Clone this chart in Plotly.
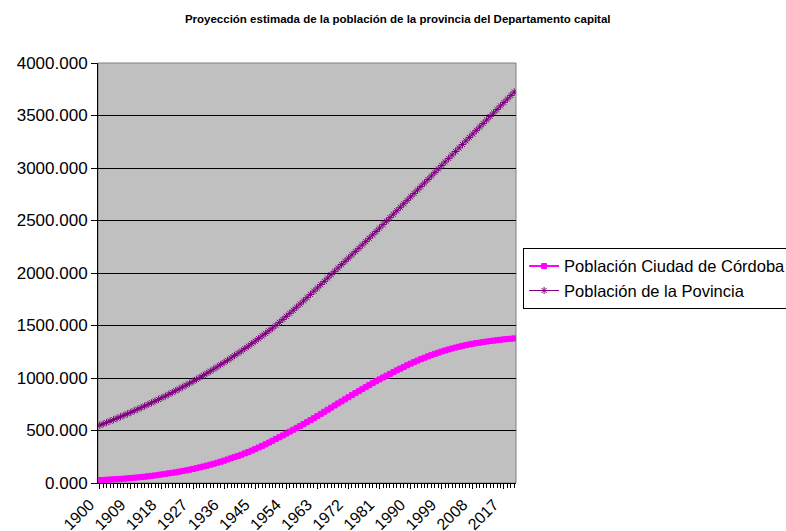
import plotly.graph_objects as go

years = list(range(1900, 2021))

ciudad = [28, 29, 31, 33, 35, 37, 39, 41, 44, 47, 50,
          53, 56, 60, 64, 68, 72, 77, 82, 87, 92,
          97, 102, 108, 114, 120, 127, 134, 141, 149, 157,
          165, 174, 183, 193, 203, 213, 224, 235, 246, 257,
          269, 282, 295, 309, 323, 338, 353, 369, 385, 402,
          419, 436, 453, 471, 489, 507, 525, 543, 561, 580,
          599, 618, 638, 658, 678, 698, 718, 738, 758, 777,
          797, 817, 837, 856, 875, 894, 913, 932, 951, 969,
          987, 1005, 1022, 1039, 1056, 1073, 1089, 1105, 1121, 1137,
          1152, 1166, 1180, 1193, 1206, 1218, 1230, 1241, 1252, 1262,
          1272, 1281, 1290, 1298, 1306, 1313, 1320, 1326, 1332, 1337,
          1342, 1347, 1352, 1356, 1360, 1364, 1368, 1371, 1374, 1377]

provincia = [550, 563, 576, 590, 603, 617, 631, 645, 659, 673, 688,
             703, 718, 733, 748, 764, 780, 796, 812, 828, 845,
             862, 879, 896, 914, 932, 950, 968, 987, 1006, 1025,
             1045, 1065, 1085, 1106, 1127, 1148, 1169, 1191, 1213, 1235,
             1257, 1280, 1303, 1327, 1351, 1375, 1400, 1425, 1450, 1475,
             1502, 1530, 1558, 1587, 1616, 1645, 1674, 1704, 1734, 1765,
             1796, 1827, 1858, 1889, 1920, 1952, 1984, 2016, 2048, 2080,
             2111, 2142, 2173, 2204, 2235, 2267, 2299, 2331, 2363, 2395,
             2428, 2461, 2494, 2527, 2560, 2593, 2626, 2659, 2692, 2725,
             2758, 2791, 2824, 2857, 2891, 2924, 2958, 2991, 3024, 3058,
             3091, 3124, 3157, 3191, 3224, 3258, 3291, 3324, 3358, 3391,
             3424, 3457, 3491, 3524, 3557, 3591, 3624, 3657, 3691, 3724]

tick_years = list(range(1900, 2021, 9))
y_ticks = [0, 500, 1000, 1500, 2000, 2500, 3000, 3500, 4000]

title_text = "Proyección estimada de la población de la provincia del Departamento capital"
name_ciudad = "Población Ciudad de Córdoba"
name_prov = "Población de la Povincia"

FONT = "Liberation Sans, Arial, sans-serif"

fig = go.Figure()
fig.add_trace(go.Scatter(
    x=years, y=ciudad, name=name_ciudad, mode="lines+markers",
    line=dict(color="#FF00FF", width=2),
    marker=dict(symbol="square", size=5, color="#FF00FF",
                line=dict(color="#FF00FF", width=1)),
))
fig.add_trace(go.Scatter(
    x=years, y=provincia, name=name_prov, mode="lines+markers",
    line=dict(color="#800080", width=1.2),
    marker=dict(symbol="asterisk-open", size=6, color="#800080",
                line=dict(color="#800080", width=1)),
))

fig.update_layout(
    width=786, height=531,
    margin=dict(l=98, r=270, t=63, b=48, autoexpand=False),
    paper_bgcolor="white",
    plot_bgcolor="#C0C0C0",
    font=dict(family=FONT, size=17, color="black"),
    title=dict(text="<b>" + title_text + "</b>", x=0.506, xanchor="center",
               y=0.964, yanchor="middle",
               font=dict(family=FONT, size=11.5, color="black")),
    showlegend=True,
    legend=dict(x=1.017, xanchor="left", y=0.56, yanchor="top",
                bgcolor="white", bordercolor="black", borderwidth=1,
                font=dict(family=FONT, size=16.5, color="black"),
                tracegroupgap=0, itemwidth=30),
    shapes=[dict(type="rect", xref="paper", yref="paper", x0=0, x1=1, y0=0, y1=1,
                 line=dict(color="#808080", width=1), layer="below")],
)

fig.update_xaxes(
    range=[1899.5, 2020.5], automargin=False,
    tickmode="array", tickvals=tick_years, ticktext=[str(v) for v in tick_years],
    tickangle=-45, ticks="outside", ticklen=5, tickcolor="black",
    ticklabelshift=-10,
    minor=dict(dtick=1, tick0=1900, ticks="outside", ticklen=4, tickcolor="black", showgrid=False),
    showgrid=False, zeroline=False,
    showline=True, linecolor="black", linewidth=1,
    tickfont=dict(family=FONT, size=16, color="black"),
)
fig.update_yaxes(
    range=[0, 4000], automargin=False,
    tickmode="array", tickvals=y_ticks, ticktext=[f"{v}.000" for v in y_ticks],
    ticks="outside", ticklen=6, tickcolor="black",
    showgrid=True, gridcolor="black", gridwidth=1,
    zeroline=False,
    showline=True, linecolor="black", linewidth=1,
    tickfont=dict(family=FONT, size=17, color="black"),
)

fig.write_html("out.html", config={"displayModeBar": False},
               post_script="document.body.style.margin='0';document.body.style.overflow='hidden';")
